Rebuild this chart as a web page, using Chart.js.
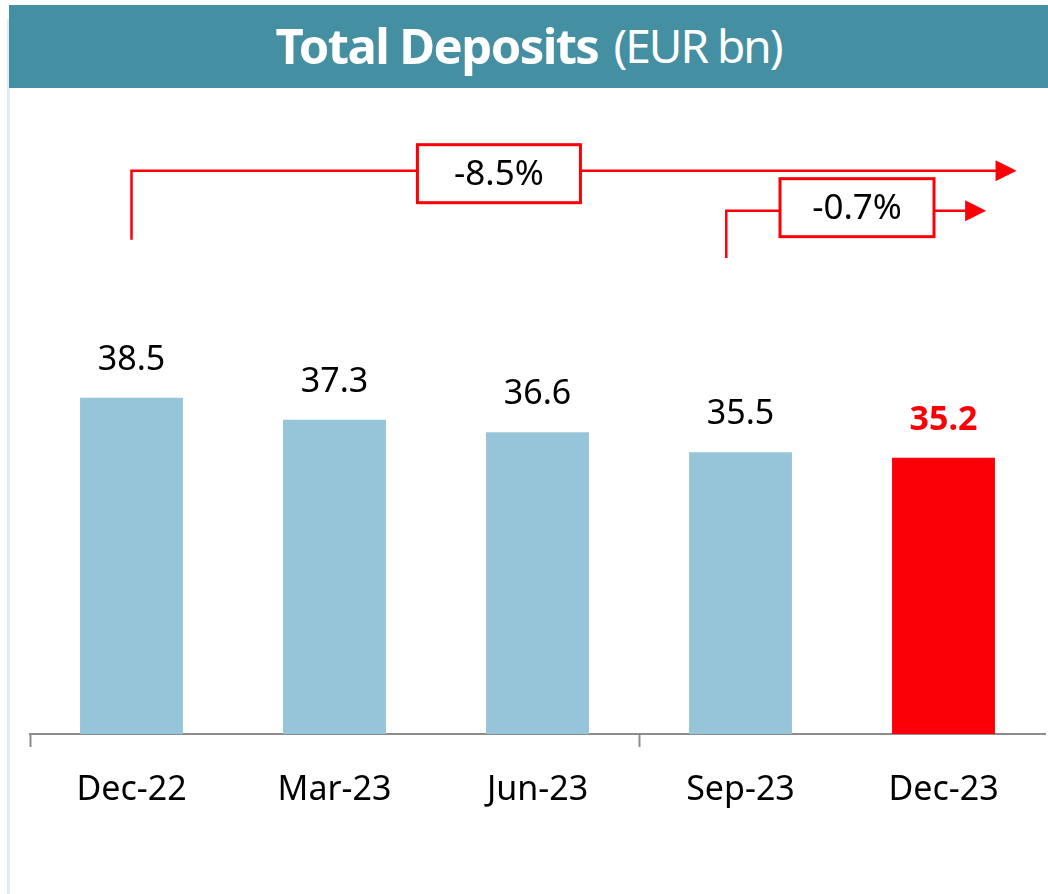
<!DOCTYPE html>
<html>
<head>
<meta charset="utf-8">
<script src="https://cdn.jsdelivr.net/npm/chart.js@4.4.1/dist/chart.umd.min.js"></script>
<style>
    html, body { margin: 0; padding: 0; background: #fff; }
    #wrap { position: relative; width: 1048px; height: 894px; overflow: hidden; }
    #edge { position: absolute; left: 7px; top: 19px; bottom: 0; width: 3px; background: #e1ebf0; }
    #head {
        position: absolute; left: 9px; top: 5px; width: 1039px; height: 83px;
        background: #458fa3; color: #fff; font-family: "Noto Sans", sans-serif;
        display: flex; align-items: center; justify-content: center;
        z-index: 2; padding-bottom: 3px; box-sizing: border-box;
    }
    #head b { font-weight: 700; font-size: 49px; letter-spacing: -1.6px; margin-right: 15px; }
    #head span { font-size: 46px; letter-spacing: -2px; }
    canvas { position: absolute; left: 0; top: 0; }
</style>
</head>
<body>
<div id="wrap">
    <div id="edge"></div>
    <div id="head"><b>Total Deposits</b><span>(EUR bn)</span></div>
    <canvas id="chart" width="1048" height="894"></canvas>
</div>
<script>
const categories = ["Dec-22", "Mar-23", "Jun-23", "Sep-23", "Dec-23"];
const deposits = [38.5, 37.3, 36.6, 35.5, 35.2];
const barColors = ["#96c5d9", "#96c5d9", "#96c5d9", "#96c5d9", "#fc0008"];
const labelColors = ["#000", "#000", "#000", "#000", "#fc0008"];
const labelBold = [false, false, false, false, true];
const changeLabels = ["-8.5%", "-0.7%"];

const RED = "#fc0008";
const FONT = '"Noto Sans", sans-serif';

// value labels above the bars
const valueLabels = {
    id: "valueLabels",
    afterDatasetsDraw(chart) {
        const ctx = chart.ctx;
        const meta = chart.getDatasetMeta(0);
        ctx.save();
        ctx.textAlign = "center";
        ctx.textBaseline = "alphabetic";
        meta.data.forEach((bar, i) => {
            ctx.font = (labelBold[i] ? "bold " : "") + "34px " + FONT;
            ctx.fillStyle = labelColors[i];
            ctx.fillText(deposits[i].toFixed(1), bar.x, bar.y - 28);
        });
        ctx.restore();
    }
};

// growth brackets: from category, to (category units), line level / foot level (y units), box centre
const brackets = {
    id: "brackets",
    afterDraw(chart, args, opts) {
        const ctx = chart.ctx;
        const xs = chart.scales.x, ys = chart.scales.y;
        ctx.save();
        opts.items.forEach((b, i) => {
            const x0 = xs.getPixelForValue(b.from);
            const x1 = xs.getPixelForValue(b.to);
            const yl = ys.getPixelForValue(b.level);
            const yf = ys.getPixelForValue(b.foot);
            ctx.strokeStyle = RED;
            ctx.fillStyle = RED;
            ctx.lineWidth = 2.5;
            ctx.beginPath();
            ctx.moveTo(x0, yf);
            ctx.lineTo(x0, yl);
            ctx.lineTo(x1 - 18, yl);
            ctx.stroke();
            ctx.beginPath();
            ctx.moveTo(x1, yl);
            ctx.lineTo(x1 - 21, yl - 10.5);
            ctx.lineTo(x1 - 21, yl + 10.5);
            ctx.closePath();
            ctx.fill();

            const bx = xs.getPixelForValue(b.box);
            const by = yl + b.boxShift;
            ctx.fillStyle = "#fff";
            ctx.fillRect(bx - b.boxW / 2, by - 29, b.boxW, 58);
            ctx.lineWidth = 3;
            ctx.strokeRect(bx - b.boxW / 2, by - 29, b.boxW, 58);
            ctx.fillStyle = "#000";
            ctx.font = "35px " + FONT;
            ctx.textAlign = "center";
            ctx.textBaseline = "middle";
            ctx.fillText(changeLabels[i], bx, by + 1);
        });
        ctx.restore();
    }
};

new Chart(document.getElementById("chart"), {
    type: "bar",
    data: {
        labels: categories,
        datasets: [{
            data: deposits,
            backgroundColor: barColors,
            borderWidth: 0,
            categoryPercentage: 1,
            barPercentage: 0.507
        }]
    },
    options: {
        responsive: false,
        animation: false,
        layout: { padding: { top: 98, left: 30, right: 3, bottom: 0 } },
        plugins: {
            legend: { display: false },
            tooltip: { enabled: false },
            brackets: {
                items: [
                    { from: 0, to: 4.36, level: 51.0, foot: 47.2, box: 1.81, boxW: 163, boxShift: 3 },
                    { from: 2.93, to: 4.21, level: 48.8, foot: 46.2, box: 3.574, boxW: 154, boxShift: -3 }
                ]
            }
        },
        scales: {
            x: {
                offset: true,
                border: { color: "#8c8c8c", width: 2 },
                grid: {
                    offset: true,
                    drawOnChartArea: false,
                    drawTicks: true,
                    tickLength: 13,
                    tickWidth: 2,
                    tickColor: c => (c.index === 0 || c.index === 3) ? "#8c8c8c" : "rgba(0,0,0,0)"
                },
                ticks: { color: "#000", font: { family: FONT, size: 34 }, padding: 23 },
                afterFit(scale) { scale.height = 160; }
            },
            y: {
                display: false,
                min: 20,
                max: 55
            }
        }
    },
    plugins: [valueLabels, brackets]
});
</script>
</body>
</html>
